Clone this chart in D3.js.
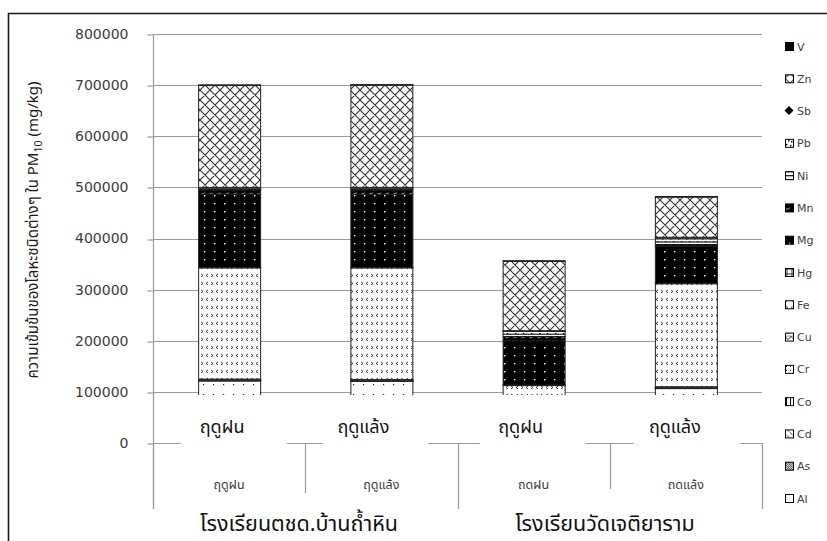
<!DOCTYPE html>
<html>
<head>
<meta charset="utf-8">
<script src="https://cdn.jsdelivr.net/npm/d3@7/dist/d3.min.js"></script>
<style>
  html, body { margin: 0; padding: 0; background: #fff; }
  svg { display: block; }
</style>
</head>
<body>
<svg id="chart" width="827" height="541"></svg>
<script>
// ---- data -------------------------------------------------------------
const seasons = ["ฤดูฝน", "ฤดูแล้ง", "ฤดูฝน", "ฤดูแล้ง"];
const schools = ["โรงเรียนตชด.บ้านถ้ำหิน", "โรงเรียนวัดเจติยาราม"];
const yTicks = [0, 100000, 200000, 300000, 400000, 500000, 600000, 700000, 800000];

// stacking order, bottom to top
const metals = ["Al", "As", "Cd", "Co", "Cr", "Cu", "Fe", "Hg", "Mg", "Mn", "Ni", "Pb", "Sb", "Zn", "V"];

// concentration (mg/kg) per sample: [school1 wet, school1 dry, school2 wet, school2 dry]
const Al = [122000, 121000, 70000, 107000];
const As = [500, 500, 500, 500];
const Cd = [300, 300, 300, 300];
const Co = [300, 300, 300, 300];
const Cr = [800, 800, 800, 800];
const Cu = [1100, 1100, 1100, 1100];
const Fe = [218000, 219000, 40000, 202000];
const Hg = [500, 500, 400, 400];
const Mg = [143500, 143000, 86500, 72000];
const Mn = [8000, 8500, 8000, 3000];
const Ni = [2000, 2000, 5000, 6000];
const Pb = [2500, 2500, 5300, 6000];
const Sb = [500, 500, 1500, 3000];
const Zn = [200000, 200500, 136300, 79300];
const V = [300, 300, 300, 300];

const series = { Al, As, Cd, Co, Cr, Cu, Fe, Hg, Mg, Mn, Ni, Pb, Sb, Zn, V };

// ---- layout -------------------------------------------------------------
const svg = d3.select("#chart");
const plot = { left: 153, right: 762, top: 34, bottom: 443 };
const thaiFont = "'Noto Sans Thai', 'Noto Sans Thai UI', 'Loma', 'Garuda', 'Tahoma', 'Noto Sans', sans-serif";

const y = d3.scaleLinear().domain([0, 800000]).range([plot.bottom, plot.top]);
const x = d3.scaleBand().domain(d3.range(seasons.length))
  .range([plot.left, plot.right]).paddingInner(0.5928).paddingOuter(0.2964);
const step = x.step();

// ---- fill patterns ----------------------------------------------------
const defs = svg.append("defs");
function pattern(id, w, h, bg, draw) {
  const p = defs.append("pattern").attr("id", id)
    .attr("patternUnits", "userSpaceOnUse").attr("width", w).attr("height", h);
  p.append("rect").attr("width", w).attr("height", h).attr("fill", bg);
  draw(p);
}
const ink = "#2a2a2a";
pattern("p-Zn", 10, 10, "#fff", p => {
  p.append("path").attr("d", "M0,0L10,10M10,0L0,10M-1,9L1,11M9,-1L11,1M-1,1L1,-1M9,11L11,9")
    .attr("stroke", "#333").attr("stroke-width", 1.1).attr("fill", "none");
});
pattern("p-Mg", 10, 8, "#000", p => {
  p.append("rect").attr("x", 4).attr("y", 3).attr("width", 1.4).attr("height", 1.4).attr("fill", "#fff");
});
pattern("p-Fe", 10, 16, "#fff", p => {
  p.append("path").attr("d", "M1,2L3,3.5L1,5 M8,10L6,11.5L8,13")
    .attr("stroke", ink).attr("stroke-width", 0.9).attr("fill", "none");
  p.append("path").attr("d", "M8,2L6,3.5L8,5 M1,10L3,11.5L1,13")
    .attr("stroke", ink).attr("stroke-width", 0.9).attr("fill", "none");
});
pattern("p-Al", 10, 10, "#fff", p => {
  p.append("rect").attr("x", 3).attr("y", 4).attr("width", 1.2).attr("height", 1.2).attr("fill", ink);
});
pattern("p-Mn", 8, 6, "#000", p => {
  p.append("path").attr("d", "M1,2L5,1").attr("stroke", "#aaa").attr("stroke-width", 1);
});
pattern("p-Ni", 6, 4, "#fff", p => {
  p.append("rect").attr("y", 0).attr("width", 6).attr("height", 1.2).attr("fill", "#000");
});
pattern("p-Pb", 8, 8, "#fff", p => {
  [[1, 1], [5, 2], [3, 5], [6, 6]].forEach(([a, b]) =>
    p.append("rect").attr("x", a).attr("y", b).attr("width", 1.5).attr("height", 1.5).attr("fill", "#000"));
});
pattern("p-Hg", 5, 5, "#fff", p => {
  p.append("path").attr("d", "M2,0V5M0,2H5").attr("stroke", "#000").attr("stroke-width", 0.8);
});
pattern("p-Cu", 6, 6, "#fff", p => {
  p.append("path").attr("d", "M0,0L3,3L6,0M0,6H6").attr("stroke", "#000").attr("stroke-width", 0.8).attr("fill", "none");
});
pattern("p-Cr", 4, 4, "#fff", p => {
  p.append("rect").attr("x", 1).attr("y", 1).attr("width", 1).attr("height", 1).attr("fill", "#000");
});
pattern("p-Co", 4, 4, "#fff", p => {
  p.append("rect").attr("x", 1).attr("width", 1).attr("height", 4).attr("fill", "#000");
});
pattern("p-Cd", 6, 6, "#fff", p => {
  p.append("path").attr("d", "M0,0L3,3M3,3L6,6").attr("stroke", "#000").attr("stroke-width", 0.8).attr("stroke-dasharray", "2 1");
});
pattern("p-As", 2, 2, "#fff", p => {
  p.append("rect").attr("width", 1).attr("height", 1).attr("fill", "#333");
  p.append("rect").attr("x", 1).attr("y", 1).attr("width", 1).attr("height", 1).attr("fill", "#333");
});
const fillFor = m => m === "V" ? "#000" : m === "Sb" ? "#666" : `url(#p-${m})`;

// ---- outer frame ------------------------------------------------------
svg.append("path").attr("d", "M8.5,541V13.5H827")
  .attr("fill", "none").attr("stroke", "#1a1a1a").attr("stroke-width", 1.6);

// ---- grid & axes --------------------------------------------------------
const grey = "#9a9a9a";
svg.append("g").selectAll("line").data(yTicks.filter(t => t > 0)).join("line")
  .attr("x1", plot.left).attr("x2", plot.right)
  .attr("y1", d => Math.round(y(d)) + 0.5).attr("y2", d => Math.round(y(d)) + 0.5)
  .attr("stroke", grey).attr("stroke-width", 1.2);

const yAxis = svg.append("g").attr("transform", `translate(${plot.left + 0.5},0)`)
  .call(d3.axisLeft(y).tickValues(yTicks).tickSize(6).tickPadding(19).tickFormat(d3.format("d")));
yAxis.select(".domain").remove();
yAxis.append("line").attr("y1", plot.top).attr("y2", 509).attr("stroke", grey).attr("stroke-width", 1.2);
yAxis.selectAll(".tick line").attr("stroke", grey).attr("stroke-width", 1.2)
  .attr("transform", d => `translate(0,${Math.round(y(d)) + 0.5 - y(d)})`);
yAxis.selectAll(".tick text").attr("fill", "#3c3c3c")
  .style("font-family", "'DejaVu Sans', Verdana, sans-serif").style("font-size", "14px");

// y title, rotated
const yTitle = svg.append("text")
  .attr("transform", "translate(38,230) rotate(-90)")
  .attr("text-anchor", "middle").attr("fill", "#1a1a1a")
  .style("font-family", thaiFont).style("font-size", "15px");
yTitle.append("tspan").text("ความเข้มข้นของโลหะชนิดต่างๆ ใน PM");
yTitle.append("tspan").attr("dy", 4).style("font-size", "10.5px").text("10");
yTitle.append("tspan").attr("dy", -4).text(" (mg/kg)");

// ---- stacked bars -----------------------------------------------------
const rows = seasons.map((s, i) => {
  const r = { i };
  metals.forEach(m => { r[m] = series[m][i]; });
  return r;
});
const stacked = d3.stack().keys(metals)(rows);
svg.append("g").selectAll("g").data(stacked).join("g")
  .attr("fill", d => fillFor(d.key))
  .selectAll("rect").data(d => d).join("rect")
  .attr("x", d => x(d.data.i) + 0.5)
  .attr("width", x.bandwidth())
  .attr("y", d => y(d[1]))
  .attr("height", d => Math.max(0.6, y(d[0]) - y(d[1])))
  .attr("stroke", "#222").attr("stroke-width", 1);

// ---- category axis (two levels) ---------------------------------------
svg.append("line").attr("x1", plot.left).attr("x2", plot.right)
  .attr("y1", plot.bottom + 0.5).attr("y2", plot.bottom + 0.5)
  .attr("stroke", grey).attr("stroke-width", 1.2);
const bounds = d3.range(seasons.length + 1).map(k => plot.left + k * step);
svg.append("g").selectAll("line").data(bounds).join("line")
  .attr("x1", d => Math.round(d) + 0.5).attr("x2", d => Math.round(d) + 0.5)
  .attr("y1", plot.bottom).attr("y2", (d, k) => k % 2 === 0 ? 509 : 498)
  .attr("stroke", grey).attr("stroke-width", 1.2);

// inner category labels
svg.append("g").selectAll("text").data(seasons).join("text")
  .attr("x", (d, i) => x(i) + x.bandwidth() / 2)
  .attr("y", 489)
  .attr("text-anchor", "middle").attr("fill", "#3c3c3c")
  .style("font-family", thaiFont).style("font-size", "12.5px")
  .text(d => d);

// white label boxes with season captions over the lower part of the chart
const seasonShift = [-7, -18, -13, -11];
const capG = svg.append("g");
capG.selectAll("rect").data(seasons).join("rect")
  .attr("x", (d, i) => x(i) + x.bandwidth() / 2 + seasonShift[i] - 41)
  .attr("y", 395).attr("width", 106).attr("height", 84).attr("fill", "#fff");
capG.selectAll("text").data(seasons).join("text")
  .attr("x", (d, i) => x(i) + x.bandwidth() / 2 + seasonShift[i])
  .attr("y", 433).attr("text-anchor", "middle").attr("fill", "#111")
  .style("font-family", thaiFont).style("font-size", "18px")
  .text(d => d);

// school captions
const schoolCenters = [299, 605];
const boxTops = [493, 489];
const schG = svg.append("g");
schG.selectAll("rect").data(schools).join("rect")
  .attr("x", (d, i) => schoolCenters[i] - 128).attr("y", (d, i) => boxTops[i])
  .attr("width", 256).attr("height", 541 - 489).attr("fill", "#fff");
schG.selectAll("text").data(schools).join("text")
  .attr("x", (d, i) => schoolCenters[i]).attr("y", 531)
  .attr("text-anchor", "middle").attr("fill", "#111")
  .style("font-family", thaiFont).style("font-size", "21.5px")
  .text(d => d);

// ---- legend ------------------------------------------------------------
const legendOrder = metals.slice().reverse();
const ly = d3.scalePoint().domain(legendOrder).range([46, 498]);
const leg = svg.append("g").selectAll("g").data(legendOrder).join("g")
  .attr("transform", d => `translate(785,${ly(d)})`);
leg.each(function (m) {
  const g = d3.select(this);
  if (m === "Sb") {
    g.append("path").attr("d", "M4,-4.5L8.5,0L4,4.5L-0.5,0Z").attr("fill", "#000");
  } else {
    g.append("rect").attr("x", 0.5).attr("y", -3.5).attr("width", 8).attr("height", 8)
      .attr("fill", fillFor(m)).attr("stroke", "#000").attr("stroke-width", 1);
  }
});
leg.append("text").attr("x", 12).attr("y", 4.5).attr("fill", "#404040")
  .style("font-family", "'DejaVu Sans', Verdana, sans-serif").style("font-size", "11px")
  .text(d => d);
</script>
</body>
</html>
